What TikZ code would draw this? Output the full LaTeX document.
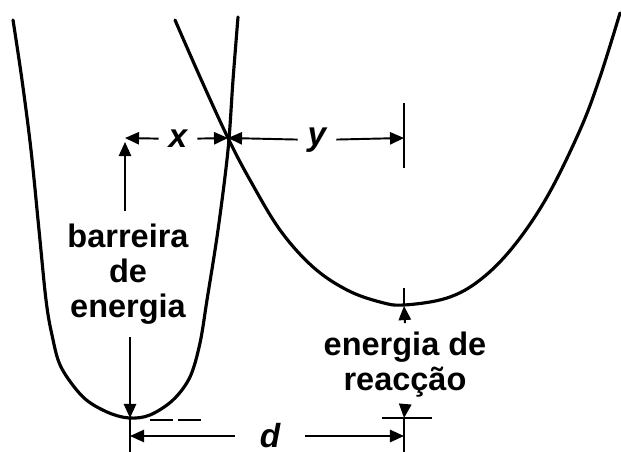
\documentclass[tikz,border=0pt]{standalone}
\usepackage{fontspec}
\setmainfont{Liberation Sans}
\usetikzlibrary{arrows.meta, positioning}
\tikzset{
	well/.style={line width=1.8pt, line join=round, line cap=round},
	dimline/.style={line width=1.1pt},
	dimarrow/.style={-{Triangle[length=8pt, width=7pt]}, line width=1.1pt},
	textlabel/.style={font=\fontsize{18.5}{20}\selectfont\bfseries, align=center, inner xsep=0pt, inner ysep=7pt},
	varlabel/.style={font=\fontsize{19}{20}\selectfont\bfseries\itshape, inner xsep=5.5pt, inner ysep=0pt},
}
\begin{document}
\begin{tikzpicture}[x=0.02cm, y=-0.02cm]
	\useasboundingbox (0,0) rectangle (621,452);
	% the two wells
	\draw[well] plot[smooth, tension=0.55] coordinates {(13,20) (22,80) (31,150) (39,230) (46,300) (52,335) (61,367) (83,397) (107,412) (129,418) (150,415) (173,400) (190,377) (200,343) (207,300) (218,230) (228,150) (233,80) (238,17)};
	\draw[well] plot[smooth, tension=0.6] coordinates {(175,20) (200,77) (228,138) (250,180) (280,230) (313,267) (347,290) (380,302) (404,305) (447,298) (480,280) (513,247) (547,197) (580,130) (600,77) (620,13)};
	\coordinate (cross) at (228,138);
	\coordinate (minL) at (130,418);
	\coordinate (minR) at (404,306);
	\coordinate (xend) at (125,138);
	\coordinate (bartop) at (125,142);
	\coordinate (yend) at (404,138);
	% labels
	\node[varlabel] (x) at (178,139) {x};
	\node[varlabel] (y) at (317,140) {y};
	\node[varlabel, inner xsep=14pt] (d) at (270,436) {d};
	\node[textlabel] (barrier) at (128,274) {barreira\\de\\energia};
	\node[textlabel, inner ysep=5pt] (reac) at (405,365) {energia de\\reacção};
	% x and y
	\draw[dimarrow] (x) -- (xend);
	\draw[dimarrow] (x) -- (cross);
	\draw[dimarrow] (y) -- (cross);
	\draw[dimarrow] (y) -- (yend);
	\draw[dimline] ([yshift=20]yend) -- ([yshift=-17]yend);
	% barrier
	\draw[dimarrow] (barrier.north -| bartop) -- (bartop);
	\draw[dimarrow] (barrier.south -| minL) -- (minL);
	\draw[dimline, dash pattern=on 13pt off 3pt] (150,420) -- (203,420);
	% reaction energy
	\coordinate (lowtick) at (404,418);
	\draw[dimline] (404,288) -- (minR);
	\draw[dimarrow] (reac.north) -- (minR);
	\draw[dimarrow] (reac.south) -- (lowtick);
	\draw[dimline] (382,418) -- (432,418);
	% d
	\draw[dimline] (minL) -- (130,452);
	\draw[dimline] (lowtick) -- (404,452);
	\draw[dimarrow] (d) -- (minL |- d);
	\draw[dimarrow] (d) -- (lowtick |- d);
\end{tikzpicture}
\end{document}
